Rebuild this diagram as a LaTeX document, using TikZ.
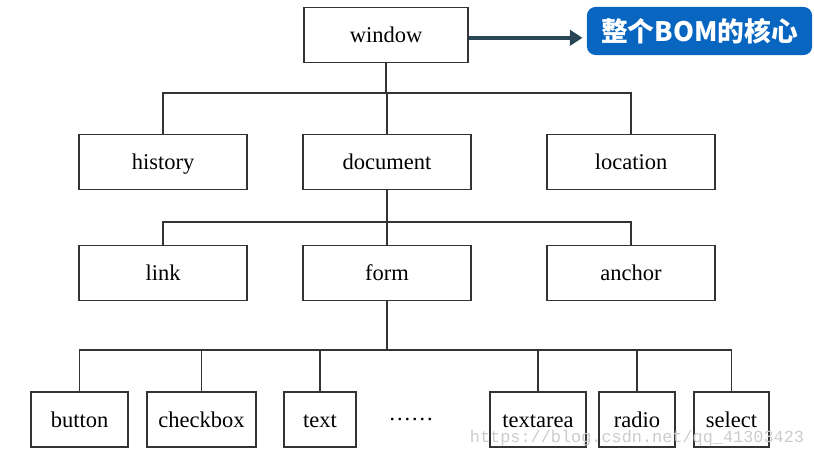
\documentclass[tikz,border=0pt]{standalone}
\usepackage{fontspec}
\setmainfont{Liberation Serif}
\newfontfamily\cjk{Noto Sans CJK SC}
\newfontfamily\urlfont{Liberation Mono}
\usepackage{tikz}
\usetikzlibrary{arrows.meta}
\usepackage{amsmath}
\definecolor{bomblue}{RGB}{8,102,192}
\definecolor{arrowslate}{RGB}{40,70,86}

\begin{document}
\begin{tikzpicture}[x=0.025cm,y=-0.025cm]
  \tikzstyle{every node}+=[inner sep=0pt,font=\fontsize{16}{19}\selectfont]
  \tikzstyle{obj}=[draw=black!80,line width=1pt,minimum width=4.2cm,minimum height=1.375cm,text height=12pt,text depth=1pt]
  \tikzstyle{leaf}=[draw=black!80,line width=1pt,minimum height=1.375cm,text height=12pt,text depth=1pt]
  \tikzstyle{wire}=[draw=black!80,line width=1pt]
  \useasboundingbox (0,0) rectangle (814,459);
  % top
  \node [obj,minimum width=4.1cm] (window) at (386,35) {window};
  \node [fill=bomblue,text=white,rounded corners=6pt,minimum width=5.625cm,minimum height=1.2cm,font=\cjk\bfseries\fontsize{19}{22}\selectfont] (core) at (699.5,31) {整个BOM的核心};
  \draw [arrowslate,line width=2.8pt,-{Triangle[length=9pt,width=11pt]},shorten >=3pt] ([yshift=-2pt]window.east) -- ([yshift=-2pt]window.east -| core.west);
  % second row
  \node [obj] (history) at (163,162) {history};
  \node [obj] (document) at (387,162) {document};
  \node [obj] (location) at (631,162) {location};
  \coordinate (bus1) at (386,93);
  \draw [wire] (window.south) -- (bus1);
  \foreach \n in {history,document,location}
    \draw [wire] (\n.north) |- (bus1);
  % third row
  \node [obj] (link) at (163,273) {link};
  \node [obj] (form) at (387,273) {form};
  \node [obj] (anchor) at (631,273) {anchor};
  \coordinate (bus2) at (387,222);
  \draw [wire] (document.south) -- (bus2);
  \foreach \n in {link,form,anchor}
    \draw [wire] (\n.north) |- (bus2);
  % form elements
  \node [leaf,minimum width=2.425cm] (button) at (79.5,419.5) {button};
  \node [leaf,minimum width=2.725cm] (checkbox) at (201.5,419.5) {checkbox};
  \node [leaf,minimum width=1.8cm] (text) at (320,419.5) {text};
  \node (dots) at (411,419) {……};
  \node [leaf,minimum width=2.4cm] (textarea) at (538,419.5) {textarea};
  \node [leaf,minimum width=1.9cm] (radio) at (637,419.5) {radio};
  \node [leaf,minimum width=1.875cm] (select) at (731.5,419.5) {select};
  \coordinate (bus3) at (387,350);
  \draw [wire] (form.south) -- (bus3);
  \foreach \n in {button,checkbox,text,textarea,radio,select}
    \draw [wire] (\n.north) |- (bus3);
  \node [text=black!20,font=\urlfont\fontsize{12}{14}\selectfont] (url) at (637,438) {https://blog.csdn.net/qq\_41303423};
\end{tikzpicture}
\end{document}
